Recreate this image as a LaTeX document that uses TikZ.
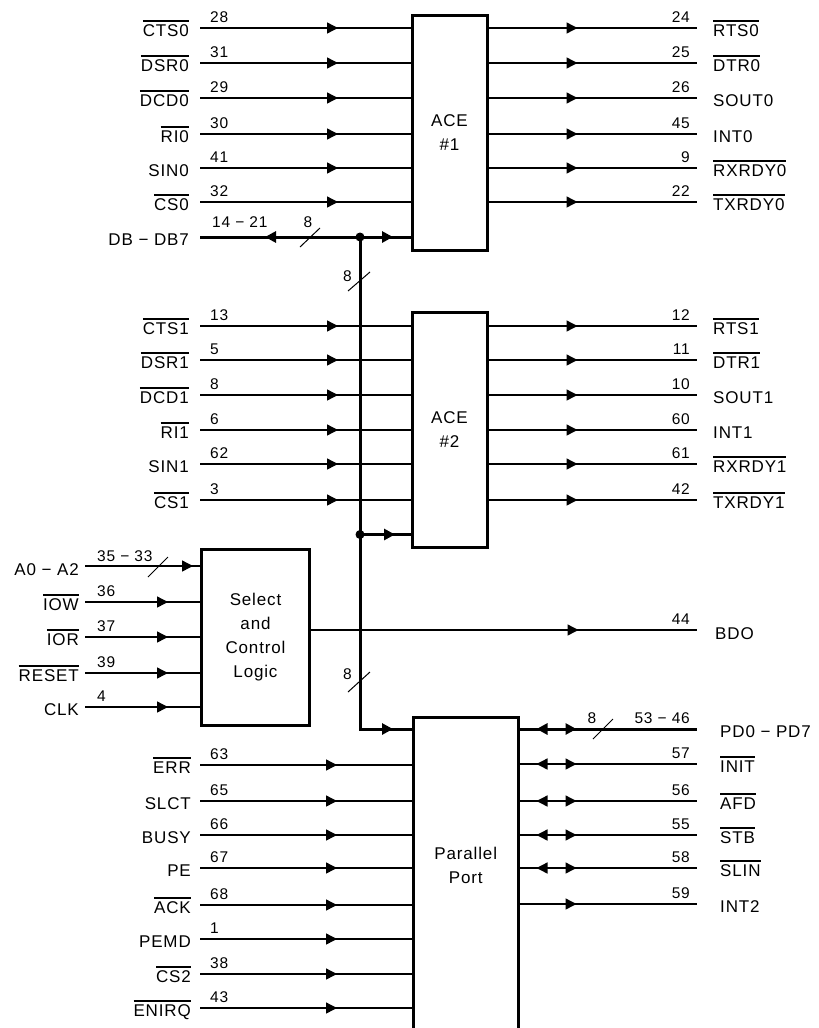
\documentclass[tikz,border=0pt]{standalone}
\usepackage{fontspec}
\setmainfont{Liberation Sans}[LetterSpace=5]
\usetikzlibrary{arrows.meta,decorations.markings}
\newsavebox\ovlbox
\newcommand\ovl[1]{\sbox\ovlbox{#1}\vbox{\hrule height 2.6pt width \wd\ovlbox\kern 2pt\copy\ovlbox}}
\newcommand\labfont{\fontsize{17}{24}\selectfont}
\newcommand\numfont{\fontsize{15.5}{17}\selectfont}
\begin{document}
\begin{tikzpicture}[x=1pt,y=-1pt,
  sig/.style={line width=1.4pt},
  bus/.style={line width=3pt},
  slash/.style={line width=1pt},
  blk/.style={draw, line width=3pt, align=center, font=\labfont, inner sep=0pt},
  blktext/.style={align=center, font=\labfont, inner sep=0pt},
  lab/.style={font=\labfont, inner sep=0pt},
  num/.style={font=\numfont, inner sep=0pt},
  tipat/.style={postaction={decorate,decoration={markings,
     mark=at position #1 with {\arrow{Triangle[length=11pt,width=11pt]}}}}},
  bidir/.style 2 args={postaction={decorate,decoration={markings,
     mark=at position #1 with {\arrowreversed{Triangle[length=11pt,width=11pt]}},
     mark=at position #2 with {\arrow{Triangle[length=11pt,width=11pt]}}}}}]
\useasboundingbox (0,0) rectangle (819,1028);

% blocks
\node[blk, minimum width=75pt, minimum height=235pt] (ace1) at (449.5,132.5) {ACE\\\#1};
\node[blk, minimum width=75pt, minimum height=234.5pt] (ace2) at (449.5,430) {ACE\\\#2};
\node[blk, minimum width=108pt, minimum height=176pt] (sel) at (255.5,637.5) {Select\\and\\Control\\Logic};
\node[blk, minimum width=104.5pt, minimum height=330pt, anchor=north] (pp) at (465.75,715.5) {};
\node[blktext] (ppt) at (465.75,865) {Parallel\\Port};

% ACE #1 inputs
\foreach \y/\t/\n [count=\i] in {28/{\ovl{CTS0}}/28, 63/{\ovl{DSR0}}/31, 98/{\ovl{DCD0}}/29,
    134/{\ovl{RI0}}/30, 168/SIN0/41, 202/{\ovl{CS0}}/32} {
  \coordinate (a1i\i) at (200,\y);
  \node[lab, anchor=base east] (a1l\i) at (189,\y+8) {\t};
  \node[num, anchor=base west] (a1n\i) at (210,\y-6) {\n};
  \draw[sig, tipat=138pt] (a1i\i) -- (a1i\i -| ace1.west);
}
% ACE #1 outputs
\foreach \y/\t/\n [count=\i] in {28/{\ovl{RTS0}}/24, 63/{\ovl{DTR0}}/25, 98/SOUT0/26,
    134/INT0/45, 168/{\ovl{RXRDY0}}/9, 202/{\ovl{TXRDY0}}/22} {
  \coordinate (a1o\i) at (697,\y);
  \node[lab, anchor=base west] (a1r\i) at (713,\y+8) {\t};
  \node[num, anchor=base east] (a1m\i) at (690,\y-6) {\n};
  \draw[sig, tipat=89pt] (ace1.east |- a1o\i) -- (a1o\i);
}
% ACE #2 inputs
\foreach \y/\t/\n [count=\i] in {326/{\ovl{CTS1}}/13, 360/{\ovl{DSR1}}/5, 395/{\ovl{DCD1}}/8,
    430/{\ovl{RI1}}/6, 464/SIN1/62, 500/{\ovl{CS1}}/3} {
  \coordinate (a2i\i) at (200,\y);
  \node[lab, anchor=base east] (a2l\i) at (189,\y+8) {\t};
  \node[num, anchor=base west] (a2n\i) at (210,\y-6) {\n};
  \draw[sig, tipat=138pt] (a2i\i) -- (a2i\i -| ace2.west);
}
% ACE #2 outputs
\foreach \y/\t/\n [count=\i] in {326/{\ovl{RTS1}}/12, 360/{\ovl{DTR1}}/11, 395/SOUT1/10,
    430/INT1/60, 464/{\ovl{RXRDY1}}/61, 500/{\ovl{TXRDY1}}/42} {
  \coordinate (a2o\i) at (697,\y);
  \node[lab, anchor=base west] (a2r\i) at (713,\y+8) {\t};
  \node[num, anchor=base east] (a2m\i) at (690,\y-6) {\n};
  \draw[sig, tipat=89pt] (ace2.east |- a2o\i) -- (a2o\i);
}

% Select and control inputs
\coordinate (addr) at (85,566);
\node[lab, anchor=base east] (addrl) at (79,575) {A0 − A2};
\node[num, anchor=base west] (addrn) at (97,561) {35 − 33};
\draw[sig, tipat=108pt] (addr) -- (addr -| sel.west);
\draw[slash] (148,577) -- (168,557);
\foreach \y/\t/\n [count=\i] in {602/{\ovl{IOW}}/36, 637/{\ovl{IOR}}/37, 673/{\ovl{RESET}}/39, 707/CLK/4} {
  \coordinate (si\i) at (85,\y);
  \node[lab, anchor=base east] (sl\i) at (79,\y+8) {\t};
  \node[num, anchor=base west] (sn\i) at (97,\y-6) {\n};
  \draw[sig, tipat=83pt] (si\i) -- (si\i -| sel.west);
}
% BDO
\coordinate (bdo) at (697,630);
\node[lab, anchor=base west] (bdol) at (715,639) {BDO};
\node[num, anchor=base east] (bdon) at (690,624) {44};
\draw[sig, tipat=267.5pt] (sel.east |- bdo) -- (bdo);

% Parallel port inputs
\foreach \y/\t/\n [count=\i] in {765/{\ovl{ERR}}/63, 801/SLCT/65, 835/BUSY/66, 868/PE/67,
    905/{\ovl{ACK}}/68, 939/PEMD/1, 974/{\ovl{CS2}}/38, 1008/{\ovl{ENIRQ}}/43} {
  \coordinate (pi\i) at (200,\y);
  \node[lab, anchor=base east] (pl\i) at (191,\y+8) {\t};
  \node[num, anchor=base west] (pn\i) at (210,\y-6) {\n};
  \draw[sig, tipat=137pt] (pi\i) -- (pi\i -| pp.west);
}
% Parallel port data bus
\coordinate (pd) at (697,729);
\node[lab, anchor=base west] (pdl) at (720,737) {PD0 − PD7};
\node[num, anchor=base east] (pdn) at (690,723) {53 − 46};
\node[num, anchor=base] (pd8) at (592,723) {8};
\draw[bus, bidir={17pt}{57pt}] (pp.east |- pd) -- (pd);
\draw[slash] (593,739) -- (613,719);
% Parallel port bidirectional lines
\foreach \y/\t/\n [count=\i] in {764/{\ovl{INIT}}/57, 801/{\ovl{AFD}}/56, 835/{\ovl{STB}}/55, 868/{\ovl{SLIN}}/58} {
  \coordinate (po\i) at (697,\y);
  \node[lab, anchor=base west] (pr\i) at (720,\y+8) {\t};
  \node[num, anchor=base east] (pm\i) at (690,\y-6) {\n};
  \draw[sig, bidir={17pt}{57pt}] (pp.east |- po\i) -- (po\i);
}
\coordinate (int2) at (697,904);
\node[lab, anchor=base west] (int2l) at (720,912) {INT2};
\node[num, anchor=base east] (int2n) at (690,898) {59};
\draw[sig, tipat=57pt] (pp.east |- int2) -- (int2);

% data bus
\coordinate (db) at (200,237);
\coordinate (j1) at (360,237);
\coordinate (j2) at (360,534.5);
\coordinate (bc) at (360,729);
\node[lab, anchor=base east] (dbl) at (189,245) {DB − DB7};
\node[num, anchor=base west] (dbn) at (212,227) {14 − 21};
\node[num, anchor=base] (db8) at (308,227) {8};
\draw[bus, bidir={65pt}{193pt}] (db) -- (db -| ace1.west);
\draw[slash] (300,247) -- (320,228);
\draw[bus, line join=miter, tipat=525pt] (j1) -- (bc) -- (bc -| pp.west);
\draw[bus, tipat=35pt] (j2) -- (j2 -| ace2.west);
\node[num, anchor=base east] (b8a) at (352,281) {8};
\draw[slash] (348,291) -- (370,272);
\node[num, anchor=base east] (b8b) at (352,679) {8};
\draw[slash] (348,692) -- (370,672);
\fill (j1) circle[radius=4.5pt];
\fill (j2) circle[radius=4.5pt];
\end{tikzpicture}
\end{document}
